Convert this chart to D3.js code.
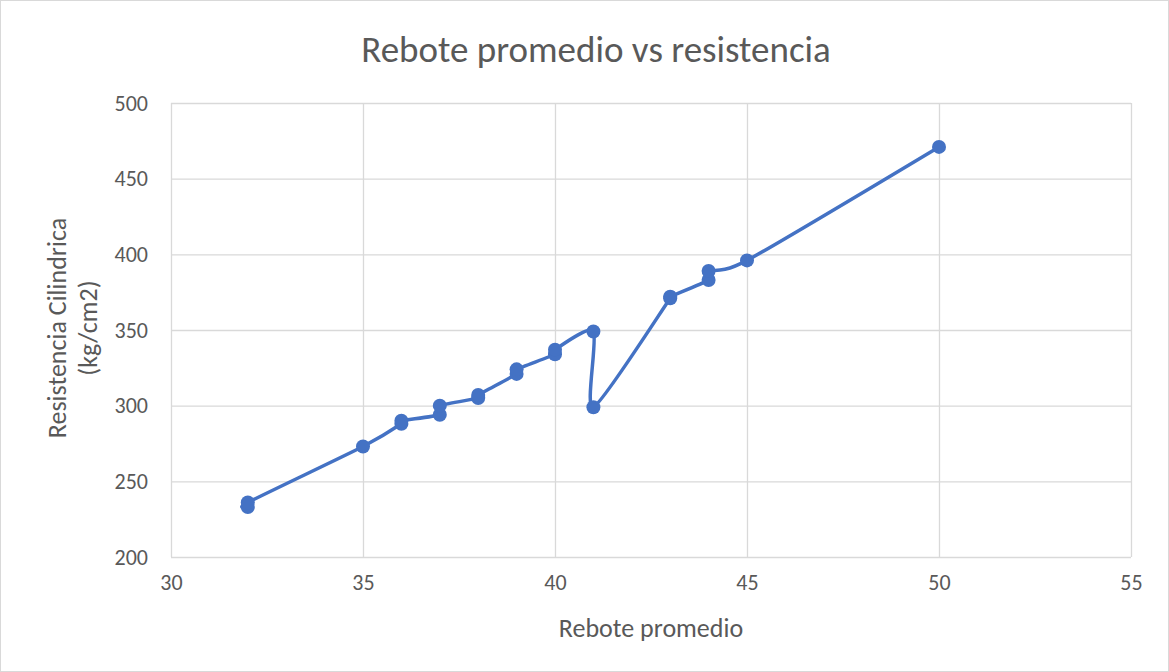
<!DOCTYPE html>
<html>
<head>
<meta charset="utf-8">
<script src="https://cdn.jsdelivr.net/npm/d3@7"></script>
<style>
  body { margin: 0; background: #fff; }
  text { font-family: Calibri, Carlito, "Open Sans", "Noto Sans", sans-serif; }
</style>
</head>
<body>
<svg id="chart" width="1169" height="672"></svg>
<script>
const title = "Rebote promedio vs resistencia";
const xTitle = "Rebote promedio";
const yTitle = ["Resistencia Cilindrica", "(kg/cm2)"];
const reboteValues = [32, 32, 35, 36, 36, 37, 37, 38, 38, 39, 39, 40, 40, 41, 41, 43, 43, 44, 44, 45, 50];
const resistenciaValues = [233, 236, 273, 288, 290, 294, 300, 305, 307, 321, 324, 334, 337, 349, 299, 371, 372, 383, 389, 396, 471];
const xTicks = [30, 35, 40, 45, 50, 55];
const yTicks = [200, 250, 300, 350, 400, 450, 500];

const W = 1169, H = 672;
const m = { left: 171, right: 1131, top: 103, bottom: 557 };
const svg = d3.select("#chart");
const font = "Calibri, Carlito, 'Open Sans', sans-serif";

svg.append("rect").attr("x", 0.5).attr("y", 0.5).attr("width", W - 1).attr("height", H - 1)
  .attr("fill", "#fff").attr("stroke", "#d9d9d9");

const x = d3.scaleLinear().domain([30, 55]).range([m.left, m.right]);
const y = d3.scaleLinear().domain([200, 500]).range([m.bottom, m.top]);

// gridlines
svg.append("g").selectAll("line").data(yTicks).join("line")
  .attr("x1", m.left).attr("x2", m.right)
  .attr("y1", d => y(d) + 0.5).attr("y2", d => y(d) + 0.5)
  .attr("stroke", "#d9d9d9").attr("stroke-width", 1.3);
svg.append("g").selectAll("line").data(xTicks).join("line")
  .attr("y1", m.top).attr("y2", m.bottom)
  .attr("x1", d => x(d) + 0.5).attr("x2", d => x(d) + 0.5)
  .attr("stroke", "#d9d9d9").attr("stroke-width", 1.3);

// axes labels
const xAxis = d3.axisBottom(x).tickValues(xTicks).tickSize(0).tickPadding(17);
const gx = svg.append("g").attr("transform", `translate(0,${m.bottom})`).call(xAxis);
gx.select(".domain").remove();
gx.selectAll("text").attr("font-size", 22).attr("fill", "#595959").style("font-family", font);

const yAxis = d3.axisLeft(y).tickValues(yTicks).tickSize(0).tickPadding(23);
const gy = svg.append("g").attr("transform", `translate(${m.left},0)`).call(yAxis);
gy.select(".domain").remove();
gy.selectAll("text").attr("font-size", 22).attr("fill", "#595959").style("font-family", font);

// title
svg.append("text").attr("x", 596).attr("y", 62).attr("text-anchor", "middle")
  .attr("font-size", 37).attr("fill", "#595959").text(title);

svg.append("text").attr("x", (m.left + m.right) / 2).attr("y", 637).attr("text-anchor", "middle")
  .attr("font-size", 26).attr("fill", "#595959").text(xTitle);

const yl = svg.append("text").attr("transform", `translate(66,${(m.top + m.bottom) / 2 - 2}) rotate(-90)`)
  .attr("text-anchor", "middle").attr("font-size", 26).attr("fill", "#595959");
yl.append("tspan").attr("x", 0).attr("dy", 0).text(yTitle[0]);
yl.append("tspan").attr("x", 0).attr("dy", 31).text(yTitle[1]);

const data = reboteValues.map((v, i) => ({ x: v, y: resistenciaValues[i] }));

const line = d3.line().x(d => x(d.x)).y(d => y(d.y)).curve(d3.curveCardinal.tension(0.3));
svg.append("path").datum(data).attr("d", line)
  .attr("fill", "none").attr("stroke", "#4472C4").attr("stroke-width", 3.5)
  .attr("stroke-linejoin", "round").attr("stroke-linecap", "round");

svg.append("g").selectAll("circle").data(data).join("circle")
  .attr("cx", d => x(d.x)).attr("cy", d => y(d.y)).attr("r", 7)
  .attr("fill", "#4472C4");
</script>
</body>
</html>
